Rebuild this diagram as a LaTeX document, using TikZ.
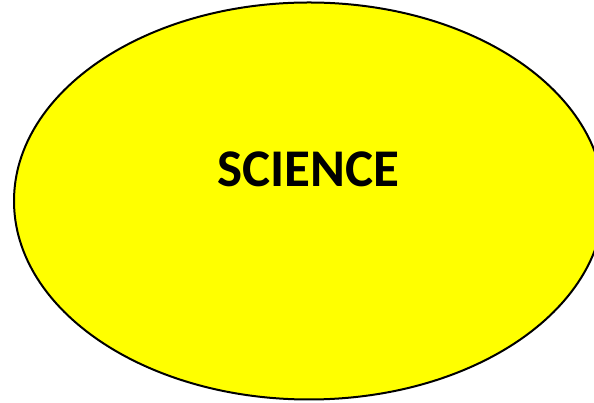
\documentclass[tikz,border=0pt]{standalone}
\usepackage{fontspec}
\setmainfont{Carlito}
\usepackage{tikz}
\usetikzlibrary{shapes.geometric,positioning}
\definecolor{cFill}{HTML}{FFFF00}

\begin{document}
\begin{tikzpicture}[
  x=1pt,y=1pt,
  blob/.style={ellipse,draw=black,fill=cFill,line width=2pt,inner sep=0pt,
               minimum width=590pt,minimum height=397pt},
  title/.style={font=\fontsize{53}{60}\selectfont\bfseries,text=black,inner sep=0pt},
]
\useasboundingbox (0,0) rectangle (594,403);
\clip (0,0) rectangle (594,403);
\node[blob] (science) at (309,202) {};
\node[title] (sciencelab) at (308,234) {SCIENCE};
\end{tikzpicture}
\end{document}
